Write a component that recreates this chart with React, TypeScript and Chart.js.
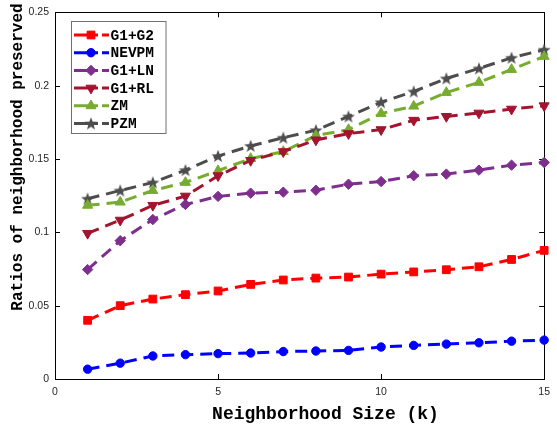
import React, { useEffect, useRef } from "react";
import { Chart, registerables } from "chart.js";
import { drawPoint } from "chart.js/helpers";

Chart.register(...registerables);

const kValues = [1, 2, 3, 4, 5, 6, 7, 8, 9, 10, 11, 12, 13, 14, 15];
const xTickValues = [0, 5, 10, 15];
const xTickLabels = ["0", "5", "10", "15"];
const yTickValues = [0, 0.05, 0.1, 0.15, 0.2, 0.25];
const yTickLabels = ["0", "0.05", "0.1", "0.15", "0.2", "0.25"];
const xTitle = "Neighborhood Size (k)";
const yTitle = "Ratios of neighborhood preserved";

const seriesNames = ["G1+G2", "NEVPM", "G1+LN", "G1+RL", "ZM", "PZM"];
const g1g2 = [0.040, 0.050, 0.0545, 0.0575, 0.060, 0.0645, 0.0675, 0.0688, 0.0695, 0.0715, 0.073, 0.0745, 0.0765, 0.0815, 0.0877];
const nevpm = [0.0067, 0.0108, 0.0157, 0.0166, 0.0173, 0.0177, 0.0187, 0.0191, 0.0195, 0.0218, 0.0229, 0.0238, 0.0247, 0.0258, 0.0265];
const g1ln = [0.0746, 0.0943, 0.1087, 0.119, 0.1245, 0.1267, 0.1274, 0.1287, 0.1328, 0.1346, 0.1386, 0.1397, 0.1424, 0.1458, 0.1476];
const g1rl = [0.0993, 0.1083, 0.1184, 0.1247, 0.1386, 0.149, 0.155, 0.163, 0.1673, 0.170, 0.1764, 0.179, 0.1813, 0.184, 0.1863];
const zm = [0.1184, 0.1206, 0.1285, 0.134, 0.142, 0.1503, 0.155, 0.166, 0.170, 0.181, 0.186, 0.1953, 0.2022, 0.211, 0.2199];
const pzm = [0.1229, 0.1285, 0.134, 0.1424, 0.152, 0.1589, 0.1645, 0.1696, 0.179, 0.1887, 0.196, 0.2049, 0.2117, 0.219, 0.2245];

const seriesValues = [g1g2, nevpm, g1ln, g1rl, zm, pzm];
const seriesColors = ["#ff0000", "#0000ff", "#7e2f8e", "#a2142f", "#77ac30", "#4d4d4d"];

function makeStar(color: string, r: number): HTMLCanvasElement {
  const size = Math.ceil(r * 2 + 2);
  const c = document.createElement("canvas");
  c.width = size;
  c.height = size;
  const ctx = c.getContext("2d")!;
  const cx = size / 2;
  const cy = size / 2 + 0.5;
  const inner = r * 0.42;
  ctx.beginPath();
  for (let i = 0; i < 10; i++) {
    const rad = i % 2 === 0 ? r : inner;
    const a = -Math.PI / 2 + (i * Math.PI) / 5;
    const px = cx + rad * Math.cos(a);
    const py = cy + rad * Math.sin(a);
    if (i === 0) ctx.moveTo(px, py);
    else ctx.lineTo(px, py);
  }
  ctx.closePath();
  ctx.fillStyle = color;
  ctx.fill();
  return c;
}

const monoFont = "'Liberation Mono', 'Courier New', monospace";
const sansFont = "'Liberation Sans', Arial, sans-serif";

const framePlugin = {
  id: "frame",
  beforeDatasetsDraw(chart: any) {
    const { ctx, chartArea } = chart;
    const { left, right, top, bottom } = chartArea;
    const xs = chart.scales.x;
    const ys = chart.scales.y;
    ctx.save();
    ctx.strokeStyle = "#000000";
    ctx.lineWidth = 1;
    ctx.strokeRect(Math.round(left) + 0.5, Math.round(top) + 0.5, Math.round(right - left), Math.round(bottom - top));
    ctx.beginPath();
    const tl = 5;
    for (const v of xTickValues) {
      const px = Math.round(xs.getPixelForValue(v)) + 0.5;
      ctx.moveTo(px, bottom);
      ctx.lineTo(px, bottom - tl);
      ctx.moveTo(px, top);
      ctx.lineTo(px, top + tl);
    }
    for (const v of yTickValues) {
      const py = Math.round(ys.getPixelForValue(v)) + 0.5;
      ctx.moveTo(left, py);
      ctx.lineTo(left + tl, py);
      ctx.moveTo(right, py);
      ctx.lineTo(right - tl, py);
    }
    ctx.stroke();

    // axis titles
    ctx.fillStyle = "#000000";
    ctx.textAlign = "center";
    ctx.textBaseline = "middle";
    ctx.font = "bold 18px " + monoFont;
    ctx.fillText(xTitle, 325.5, 414);
    ctx.save();
    ctx.translate(18, 157);
    ctx.rotate(-Math.PI / 2);
    ctx.font = "bold 16px " + monoFont;
    ctx.fillText(yTitle, 0, 0);
    ctx.restore();
    ctx.restore();
  },
};

const legendPlugin = {
  id: "customLegend",
  afterDatasetsDraw(chart: any) {
    const { ctx } = chart;
    ctx.save();
    const bx = 71.5, by = 21.5, bw = 94.5, bh = 112;
    ctx.fillStyle = "#ffffff";
    ctx.fillRect(bx, by, bw, bh);
    ctx.strokeStyle = "#707070";
    ctx.lineWidth = 1;
    ctx.strokeRect(bx, by, bw, bh);
    chart.data.datasets.forEach((ds: any, i: number) => {
      const y = 35 + i * 17.7;
      ctx.strokeStyle = ds.borderColor;
      ctx.lineWidth = 3;
      ctx.setLineDash([]);
      ctx.beginPath();
      ctx.moveTo(74, y);
      ctx.lineTo(98, y);
      ctx.moveTo(102, y);
      ctx.lineTo(109, y);
      ctx.stroke();
      ctx.fillStyle = ds.pointBackgroundColor;
      ctx.strokeStyle = ds.pointBorderColor;
      ctx.lineWidth = 1;
      drawPoint(ctx, {
        pointStyle: ds.pointStyle,
        radius: ds.pointRadius,
        rotation: ds.pointRotation || 0,
        borderWidth: 1,
      } as any, 91, y);
      ctx.fillStyle = "#000000";
      ctx.font = "bold 14.5px " + monoFont;
      ctx.textBaseline = "middle";
      ctx.textAlign = "left";
      ctx.fillText(ds.label, 110.5, y + 1);
    });
    ctx.restore();
  },
};

export default function App() {
  const canvasRef = useRef<HTMLCanvasElement | null>(null);

  useEffect(() => {
    document.body.style.margin = "0";
    const canvas = canvasRef.current;
    if (!canvas) return;

    const styles: any[] = [
      { pointStyle: "rect", pointRadius: 5.5, pointRotation: 0 },
      { pointStyle: "circle", pointRadius: 4.2, pointRotation: 0 },
      { pointStyle: "rectRot", pointRadius: 5.2, pointRotation: 0 },
      { pointStyle: "triangle", pointRadius: 5.8, pointRotation: 180 },
      { pointStyle: "triangle", pointRadius: 5.8, pointRotation: 0 },
      { pointStyle: makeStar(seriesColors[5], 6.8), pointRadius: 6, pointRotation: 0 },
    ];

    const datasets = seriesNames.map((name, i) => ({
      label: name,
      data: kValues.map((k, j) => ({ x: k, y: seriesValues[i][j] })),
      borderColor: seriesColors[i],
      backgroundColor: seriesColors[i],
      pointBackgroundColor: seriesColors[i],
      pointBorderColor: seriesColors[i],
      pointBorderWidth: 1,
      borderWidth: 3,
      borderDash: [12, 7],
      fill: false,
      tension: 0,
      clip: false as any,
      ...styles[i],
    }));

    const chart = new Chart(canvas, {
      type: "line",
      data: { datasets },
      plugins: [framePlugin, legendPlugin],
      options: {
        animation: false,
        responsive: false,
        maintainAspectRatio: false,
        devicePixelRatio: 1,
        layout: { padding: { top: 8, right: 12, left: 0, bottom: 0 } },
        plugins: {
          legend: { display: false },
          tooltip: { enabled: false },
          title: { display: false },
        },
        scales: {
          x: {
            type: "linear",
            min: 0,
            max: 15,
            grid: { display: false, drawTicks: false },
            border: { display: false },
            afterBuildTicks: (scale: any) => {
              scale.ticks = xTickValues.map((v) => ({ value: v }));
            },
            afterFit: (scale: any) => {
              scale.height = 45;
            },
            ticks: {
              padding: 7,
              color: "#262626",
              font: { family: sansFont, size: 10.5 },
              maxRotation: 0,
              callback: (value: any) => {
                const idx = xTickValues.indexOf(Number(value));
                return idx >= 0 ? xTickLabels[idx] : "";
              },
            },
            title: { display: false },
          },
          y: {
            type: "linear",
            min: 0,
            max: 0.25,
            grid: { display: false, drawTicks: false },
            border: { display: false },
            afterBuildTicks: (scale: any) => {
              scale.ticks = yTickValues.map((v) => ({ value: v }));
            },
            afterFit: (scale: any) => {
              scale.width = 55;
            },
            ticks: {
              padding: 6,
              color: "#262626",
              font: { family: sansFont, size: 10.5 },
              callback: (value: any) => {
                const idx = yTickValues.findIndex((v) => Math.abs(v - Number(value)) < 1e-9);
                return idx >= 0 ? yTickLabels[idx] : "";
              },
            },
            title: { display: false },
          },
        },
      } as any,
    });

    return () => {
      chart.destroy();
    };
  }, []);

  return (
    <div style={{ width: 557, height: 424, background: "#ffffff" }}>
      <canvas ref={canvasRef} width={557} height={424} style={{ width: 557, height: 424, display: "block" }} />
    </div>
  );
}
